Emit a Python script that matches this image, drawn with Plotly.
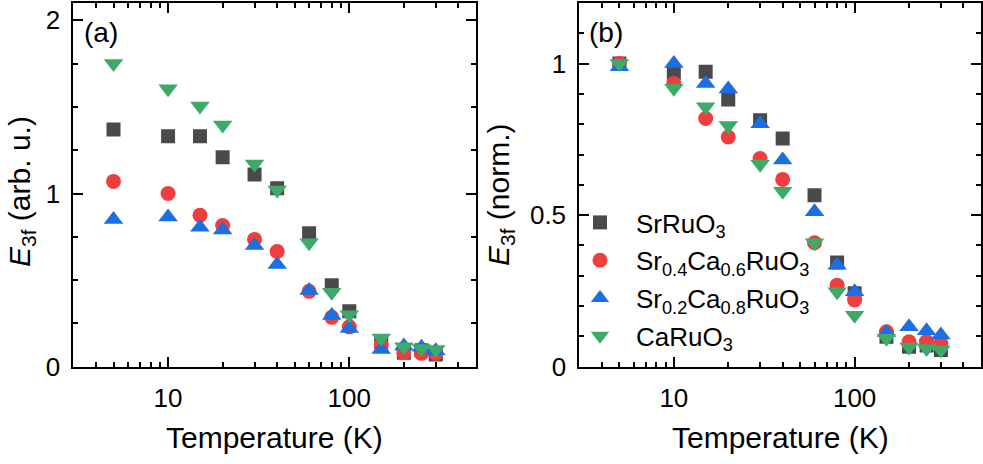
import plotly.graph_objects as go

# Temperatures (K)
temperature = [5, 10, 15, 20, 30, 40, 60, 80, 100, 150, 200, 250, 300]

# (a) third-harmonic field, arbitrary units
sro_a = [1.37, 1.33, 1.33, 1.21, 1.11, 1.03, 0.77, 0.47, 0.32, 0.14, 0.08, 0.095, 0.07]
sc46_a = [1.07, 1.00, 0.875, 0.815, 0.735, 0.665, 0.435, 0.285, 0.23, 0.125, 0.08, 0.077, 0.077]
sc28_a = [0.85, 0.865, 0.805, 0.79, 0.70, 0.59, 0.44, 0.295, 0.22, 0.10, 0.12, 0.113, 0.092]
cro_a = [1.75, 1.605, 1.505, 1.395, 1.17, 1.02, 0.715, 0.43, 0.30, 0.165, 0.115, 0.105, 0.10]

# (b) normalised to the 5 K value
sro_b = [1.0, 0.97, 0.973, 0.882, 0.813, 0.753, 0.566, 0.344, 0.242, 0.099, 0.066, 0.07, 0.055]
sc46_b = [1.0, 0.934, 0.819, 0.758, 0.687, 0.618, 0.409, 0.269, 0.22, 0.115, 0.082, 0.083, 0.077]
sc28_b = [0.99, 1.0, 0.934, 0.916, 0.802, 0.682, 0.511, 0.335, 0.247, 0.113, 0.132, 0.119, 0.105]
cro_b = [1.0, 0.919, 0.858, 0.796, 0.668, 0.579, 0.409, 0.247, 0.17, 0.094, 0.065, 0.06, 0.055]

names = ["SrRuO<sub>3</sub>",
         "Sr<sub>0.4</sub>Ca<sub>0.6</sub>RuO<sub>3</sub>",
         "Sr<sub>0.2</sub>Ca<sub>0.8</sub>RuO<sub>3</sub>",
         "CaRuO<sub>3</sub>"]
colors = ["#4a4a4a", "#ef3e3e", "#1b6fe0", "#3daa6a"]
symbols = ["square", "circle", "triangle-up", "triangle-down"]
sizes = [14, 15, 17, 17]

FONT = "Liberation Sans, Arial, sans-serif"
W, H = 983, 464

fig = go.Figure()

for i, ys in enumerate([sro_a, sc46_a, sc28_a, cro_a]):
    fig.add_trace(go.Scatter(
        x=temperature, y=ys, mode="markers", xaxis="x", yaxis="y",
        marker=dict(symbol=symbols[i], size=sizes[i], color=colors[i], line=dict(width=0)),
        name=names[i], showlegend=False))

for i, ys in enumerate([sro_b, sc46_b, sc28_b, cro_b]):
    fig.add_trace(go.Scatter(
        x=temperature, y=ys, mode="markers", xaxis="x2", yaxis="y2",
        marker=dict(symbol=symbols[i], size=sizes[i], color=colors[i], line=dict(width=0)),
        name=names[i], legendgroup=f"g{i}", showlegend=True))

minor_x = [3, 4, 5, 6, 7, 8, 9, 20, 30, 40, 50, 60, 70, 80, 90, 200, 300, 400, 500]

def xaxis_style(domain, anchor):
    return dict(
        type="log", range=[0.4771, 2.699], domain=domain, anchor=anchor,
        tickvals=[10, 100], ticktext=["10", "100"],
        ticks="inside", ticklen=10, tickwidth=2, tickcolor="black",
        minor=dict(tickvals=minor_x, ticks="inside", ticklen=5, tickwidth=2, tickcolor="black"),
        showline=True, linewidth=2, linecolor="black", mirror="ticks",
        showgrid=False, zeroline=False, automargin=False,
        tickfont=dict(family=FONT, size=26, color="black"),
        ticklabelstandoff=7,
    )

def yaxis_style(domain, anchor, rng, tickvals, ticktext, minor_vals):
    return dict(
        range=rng, domain=domain, anchor=anchor,
        tickvals=tickvals, ticktext=ticktext,
        ticks="inside", ticklen=10, tickwidth=2, tickcolor="black",
        minor=dict(tickvals=minor_vals, ticks="inside", ticklen=5, tickwidth=2, tickcolor="black"),
        showline=True, linewidth=2, linecolor="black", mirror="ticks",
        showgrid=False, zeroline=False, automargin=False,
        tickfont=dict(family=FONT, size=26, color="black"),
        ticklabelstandoff=6,
    )

ydom = [1 - 366.7 / H, 1 - 3 / H]

fig.update_layout(
    width=W, height=H, autosize=False,
    margin=dict(l=0, r=0, t=0, b=0, pad=0, autoexpand=False),
    paper_bgcolor="white", plot_bgcolor="white",
    font=dict(family=FONT, color="black"),
    xaxis=xaxis_style([73.3 / W, 476 / W], "y"),
    xaxis2=xaxis_style([579.3 / W, 981 / W], "y2"),
    yaxis=yaxis_style(ydom, "x", [0, 2.1], [0, 1, 2], ["0", "1", "2"],
                      [0.25, 0.5, 0.75, 1.25, 1.5, 1.75]),
    yaxis2=yaxis_style(ydom, "x2", [0, 1.2], [0, 0.5, 1], ["0", "0.5", "1"],
                       [0.1, 0.2, 0.3, 0.4, 0.6, 0.7, 0.8, 0.9, 1.1]),
    legend=dict(
        x=564 / W, y=1 - 199 / H, xanchor="left", yanchor="top",
        bgcolor="rgba(0,0,0,0)", borderwidth=0,
        font=dict(family=FONT, size=26, color="black"),
        itemwidth=62, traceorder="grouped", tracegroupgap=1,
    ),
    annotations=[
        dict(text="(a)", x=82 / W, y=1 - 32 / H, xref="paper", yref="paper",
             xanchor="left", yanchor="middle", showarrow=False,
             font=dict(family=FONT, size=28)),
        dict(text="(b)", x=587 / W, y=1 - 32 / H, xref="paper", yref="paper",
             xanchor="left", yanchor="middle", showarrow=False,
             font=dict(family=FONT, size=28)),
        dict(text="Temperature (K)", x=(73.3 + 476) / 2 / W, y=1 - 437 / H,
             xref="paper", yref="paper", xanchor="center", yanchor="middle",
             showarrow=False, font=dict(family=FONT, size=30)),
        dict(text="Temperature (K)", x=(579.3 + 981) / 2 / W, y=1 - 437 / H,
             xref="paper", yref="paper", xanchor="center", yanchor="middle",
             showarrow=False, font=dict(family=FONT, size=30)),
        dict(text="<i>E</i><sub>3f</sub> (arb. u.)", x=22 / W, y=1 - 192 / H,
             xref="paper", yref="paper", xanchor="center", yanchor="middle",
             textangle=-90, showarrow=False, font=dict(family=FONT, size=30)),
        dict(text="<i>E</i><sub>3f</sub> (norm.)", x=500 / W, y=1 - 195 / H,
             xref="paper", yref="paper", xanchor="center", yanchor="middle",
             textangle=-90, showarrow=False, font=dict(family=FONT, size=30)),
    ],
)

fig.write_html("out.html")
